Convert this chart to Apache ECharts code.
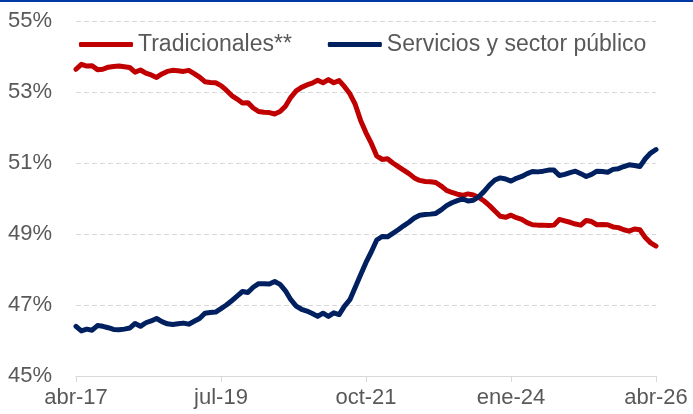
<!DOCTYPE html>
<html>
<head>
<meta charset="utf-8">
<script src="https://cdn.jsdelivr.net/npm/echarts@6/dist/echarts.min.js"></script>
<style>
  html, body { margin: 0; padding: 0; background: #fff; }
  #main { width: 693px; height: 414px; }
</style>
</head>
<body>
<div id="main"></div>
<script>
var chartDom = document.getElementById('main');
var myChart = echarts.init(chartDom);
var option;

// meses abr-17 .. abr-26
const monthNames = ['ene', 'feb', 'mar', 'abr', 'may', 'jun', 'jul', 'ago', 'sep', 'oct', 'nov', 'dic'];
const months = [];
for (let k = 0; k < 109; k++) {
  const m = (3 + k) % 12;
  const y = 17 + Math.floor((3 + k) / 12);
  months.push(monthNames[m] + '-' + y);
}

const tradicionales = [
  53.64, 53.78, 53.73, 53.74, 53.63, 53.64, 53.70, 53.72, 53.73, 53.71,
  53.69, 53.56, 53.62, 53.53, 53.48, 53.41, 53.51, 53.58, 53.61, 53.60,
  53.58, 53.61, 53.52, 53.42, 53.29, 53.27, 53.26, 53.18, 53.05, 52.90,
  52.80, 52.69, 52.70, 52.55, 52.45, 52.43, 52.42, 52.38, 52.45, 52.60,
  52.85, 53.03, 53.13, 53.20, 53.25, 53.33, 53.26, 53.35, 53.26, 53.32,
  53.15, 52.95, 52.65, 52.20, 51.85, 51.55, 51.20, 51.10, 51.12, 51.00,
  50.90, 50.80, 50.70, 50.58, 50.51, 50.48, 50.47, 50.45, 50.35, 50.23,
  50.17, 50.12, 50.09, 50.13, 50.10, 50.03, 49.93, 49.80, 49.65, 49.50,
  49.47, 49.53, 49.46, 49.41, 49.32, 49.26, 49.25, 49.25, 49.24, 49.25,
  49.41, 49.37, 49.33, 49.28, 49.25, 49.38, 49.35, 49.26, 49.27, 49.26,
  49.20, 49.18, 49.12, 49.08, 49.14, 49.12, 48.90, 48.75, 48.66
];

const servicios = [
  46.40, 46.27, 46.32, 46.29, 46.42, 46.40, 46.36, 46.31, 46.30, 46.32,
  46.35, 46.48, 46.40, 46.50, 46.55, 46.62, 46.53, 46.47, 46.45, 46.47,
  46.49, 46.46, 46.54, 46.62, 46.77, 46.79, 46.80, 46.90, 47.00, 47.12,
  47.25, 47.38, 47.35, 47.50, 47.60, 47.60, 47.59, 47.66, 47.58, 47.40,
  47.15, 46.97, 46.88, 46.83, 46.76, 46.68, 46.77, 46.68, 46.78, 46.73,
  46.97, 47.15, 47.50, 47.85, 48.20, 48.50, 48.83, 48.93, 48.92, 49.02,
  49.12, 49.23, 49.33, 49.45, 49.53, 49.55, 49.56, 49.58, 49.68, 49.80,
  49.88, 49.94, 49.99, 49.93, 49.95, 50.05, 50.20, 50.38, 50.52, 50.58,
  50.55, 50.49, 50.57, 50.62, 50.70, 50.76, 50.75, 50.77, 50.80, 50.80,
  50.65, 50.68, 50.73, 50.77, 50.70, 50.62, 50.68, 50.77, 50.76, 50.74,
  50.82, 50.84, 50.90, 50.95, 50.93, 50.90, 51.12, 51.28, 51.38
];

const fontFam = '"Liberation Sans", Arial, sans-serif';

option = {
  animation: false,
  backgroundColor: '#ffffff',
  graphic: [
    {
      type: 'rect',
      left: 0,
      top: 0,
      shape: { width: 693, height: 2 },
      style: { fill: '#0039A6' }
    }
  ],
  legend: {
    left: 74,
    top: 28,
    itemWidth: 54,
    itemHeight: 5,
    itemGap: 36,
    icon: 'roundRect',
    textStyle: {
      fontFamily: fontFam,
      fontSize: 23,
      color: '#595959'
    },
    data: ['Tradicionales**', 'Servicios y sector público']
  },
  grid: {
    left: 76,
    right: 37,
    top: 21,
    bottom: 38
  },
  xAxis: {
    type: 'category',
    boundaryGap: false,
    data: months,
    axisLine: { lineStyle: { color: '#d9d9d9', width: 1 } },
    axisTick: {
      show: true,
      interval: 26,
      length: 6,
      lineStyle: { color: '#d9d9d9' }
    },
    axisLabel: {
      interval: 26,
      margin: 11,
      fontFamily: fontFam,
      fontSize: 22,
      color: '#595959'
    },
    splitLine: { show: false }
  },
  yAxis: {
    type: 'value',
    min: 45,
    max: 55,
    interval: 2,
    axisLine: { show: false },
    axisTick: { show: false },
    axisLabel: {
      formatter: '{value}%',
      margin: 24,
      fontFamily: fontFam,
      fontSize: 22,
      color: '#595959'
    },
    splitLine: {
      lineStyle: { color: '#d9d9d9', type: [5, 3], width: 1 }
    }
  },
  series: [
    {
      name: 'Tradicionales**',
      type: 'line',
      data: tradicionales,
      showSymbol: false,
      symbol: 'none',
      smooth: false,
      itemStyle: { color: '#C00000' },
      lineStyle: { color: '#C00000', width: 5, cap: 'round', join: 'round' }
    },
    {
      name: 'Servicios y sector público',
      type: 'line',
      data: servicios,
      showSymbol: false,
      symbol: 'none',
      smooth: false,
      itemStyle: { color: '#002060' },
      lineStyle: { color: '#002060', width: 5, cap: 'round', join: 'round' }
    }
  ]
};

option && myChart.setOption(option);

window.onresize = function() {
  myChart.resize();
};
</script>
</body>
</html>
